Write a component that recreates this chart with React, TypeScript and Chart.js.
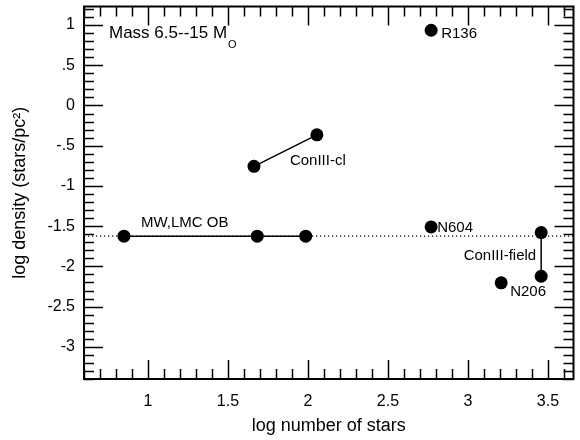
import React, { useEffect, useRef } from "react";
import { Chart, registerables } from "chart.js";
Chart.register(...registerables);

// Axis ranges and tick labels
const X_MIN = 0.6;
const X_MAX = 3.66;
const Y_MIN = -3.4;
const Y_MAX = 1.23;
const xTickValues = [1, 1.5, 2, 2.5, 3, 3.5];
const xTickLabels = ["1", "1.5", "2", "2.5", "3", "3.5"];
const yTickValues = [1, 0.5, 0, -0.5, -1, -1.5, -2, -2.5, -3];
const yTickLabels = ["1", ".5", "0", "-.5", "-1", "-1.5", "-2", "-2.5", "-3"];

// Data
const mwLmcX = [0.85, 1.683, 1.986];
const mwLmcY = [-1.625, -1.625, -1.625];
const conClX = [1.6625, 2.056];
const conClY = [-0.757, -0.365];
const conFieldX = [3.458, 3.458];
const conFieldY = [-1.58, -2.123];
const singleNames = ["R136", "N604", "N206"];
const singleX = [2.77, 2.77, 3.208];
const singleY = [0.935, -1.51, -2.205];
const referenceLevel = -1.625;

const FONT = "'Liberation Sans', Arial, Helvetica, sans-serif";

const toPts = (xs: number[], ys: number[]) => xs.map((x, i) => ({ x, y: ys[i] }));

const framePlugin = {
  id: "frame",
  afterDatasetsDraw(chart: any) {
    const { ctx, chartArea, scales } = chart;
    const { left, right, top, bottom } = chartArea;
    const xs = scales.x;
    const ys = scales.y;
    ctx.save();
    ctx.strokeStyle = "#000";
    ctx.lineWidth = 1.5;
    const MAJ = 19;
    const MIN = 10;
    for (let k = Math.ceil(X_MIN * 10); k <= Math.floor(X_MAX * 10); k++) {
      const v = k / 10;
      const px = Math.round(xs.getPixelForValue(v)) + 0.5;
      const len = k % 5 === 0 ? MAJ : MIN;
      ctx.beginPath();
      ctx.moveTo(px, bottom);
      ctx.lineTo(px, bottom - len);
      ctx.moveTo(px, top);
      ctx.lineTo(px, top + len);
      ctx.stroke();
    }
    for (let k = Math.ceil(Y_MIN * 10); k <= Math.floor(Y_MAX * 10); k++) {
      const v = k / 10;
      const py = Math.round(ys.getPixelForValue(v)) + 0.5;
      const len = k % 5 === 0 ? MAJ : MIN;
      ctx.beginPath();
      ctx.moveTo(left, py);
      ctx.lineTo(left + len, py);
      ctx.moveTo(right, py);
      ctx.lineTo(right - len, py);
      ctx.stroke();
    }
    ctx.lineWidth = 2;
    ctx.strokeRect(left, top, right - left, bottom - top);

    // annotations
    ctx.fillStyle = "#000";
    ctx.textBaseline = "middle";
    const put = (text: string, x: number, y: number, dx: number, dy: number, align: CanvasTextAlign, size = 15) => {
      ctx.font = `${size}px ${FONT}`;
      ctx.textAlign = align;
      ctx.fillText(text, xs.getPixelForValue(x) + dx, ys.getPixelForValue(y) + dy);
    };
    put("MW,LMC OB", mwLmcX[0], mwLmcY[0], 17, -13, "left");
    put("ConIII-cl", conClX[1], conClY[1], -27, 26, "left");
    put("ConIII-field", conFieldX[0], (conFieldY[0] + conFieldY[1]) / 2, -5, 1, "right");
    put(singleNames[0], singleX[0], singleY[0], 10, 4, "left");
    put(singleNames[1], singleX[1], singleY[1], 6, 1, "left");
    put(singleNames[2], singleX[2], singleY[2], 9, 9, "left");

    // title in the corner
    ctx.textAlign = "left";
    ctx.font = `17px ${FONT}`;
    const t = "Mass 6.5--15 M";
    const tx = left + 25;
    ctx.fillText(t, tx, top + 27);
    const w = ctx.measureText(t).width;
    ctx.font = `11px ${FONT}`;
    ctx.fillText("O", tx + w + 1, top + 38);
    ctx.restore();
  },
};

const zeroPad = (s: any) => {
  s.paddingTop = 0;
  s.paddingBottom = 0;
  s.paddingLeft = 0;
  s.paddingRight = 0;
};

export default function App() {
  const ref = useRef<HTMLCanvasElement | null>(null);
  useEffect(() => {
    if (!ref.current) return;
    const lineDs = (pts: any[]) => ({
      data: pts,
      showLine: true,
      borderColor: "#000",
      borderWidth: 1.5,
      pointRadius: 6.5,
      pointBackgroundColor: "#000",
      pointBorderWidth: 0,
    });
    const chart = new Chart(ref.current, {
      type: "scatter",
      data: {
        datasets: [
          lineDs(toPts(mwLmcX, mwLmcY)),
          lineDs(toPts(conClX, conClY)),
          lineDs(toPts(conFieldX, conFieldY)),
          { ...lineDs(toPts(singleX, singleY)), showLine: false },
          {
            data: [
              { x: X_MIN, y: referenceLevel },
              { x: X_MAX, y: referenceLevel },
            ],
            showLine: true,
            borderColor: "#000",
            borderWidth: 1.2,
            borderDash: [1.2, 2.8],
            pointRadius: 0,
          },
        ],
      },
      options: {
        responsive: false,
        animation: false,
        devicePixelRatio: 1,
        layout: { padding: { top: 5, right: 1, left: 0, bottom: 0 } },
        plugins: { legend: { display: false }, tooltip: { enabled: false } },
        scales: {
          x: {
            type: "linear",
            min: X_MIN,
            max: X_MAX,
            grid: { display: false, drawTicks: false },
            border: { display: false },
            afterBuildTicks: (s: any) => {
              s.ticks = xTickValues.map((v) => ({ value: v }));
            },
            afterFit: (s: any) => {
              s.height = 61;
              zeroPad(s);
            },
            ticks: {
              autoSkip: false,
              maxRotation: 0,
              padding: 13,
              color: "#000",
              font: { family: FONT, size: 16 },
              callback: (v: any) => xTickLabels[xTickValues.indexOf(Number(v))] ?? "",
            },
            title: {
              display: true,
              text: "log number of stars",
              color: "#000",
              font: { family: FONT, size: 18 },
              padding: { top: 0, bottom: 3 },
            },
          },
          y: {
            type: "linear",
            min: Y_MIN,
            max: Y_MAX,
            grid: { display: false, drawTicks: false },
            border: { display: false },
            afterBuildTicks: (s: any) => {
              s.ticks = yTickValues.map((v) => ({ value: v }));
            },
            afterFit: (s: any) => {
              s.width = 84;
              zeroPad(s);
            },
            ticks: {
              autoSkip: false,
              padding: 9,
              color: "#000",
              font: { family: FONT, size: 16 },
              callback: (v: any) => yTickLabels[yTickValues.indexOf(Number(v))] ?? "",
            },
            title: {
              display: true,
              text: "log density (stars/pc²)",
              color: "#000",
              font: { family: FONT, size: 18 },
              padding: { top: 9, bottom: 0 },
            },
          },
        },
      },
      plugins: [framePlugin],
    });
    return () => chart.destroy();
  }, []);
  return (
    <div style={{ position: "absolute", left: 0, top: 0, width: 580, height: 440, background: "#fff" }}>
      <canvas ref={ref} width={580} height={440} />
    </div>
  );
}
